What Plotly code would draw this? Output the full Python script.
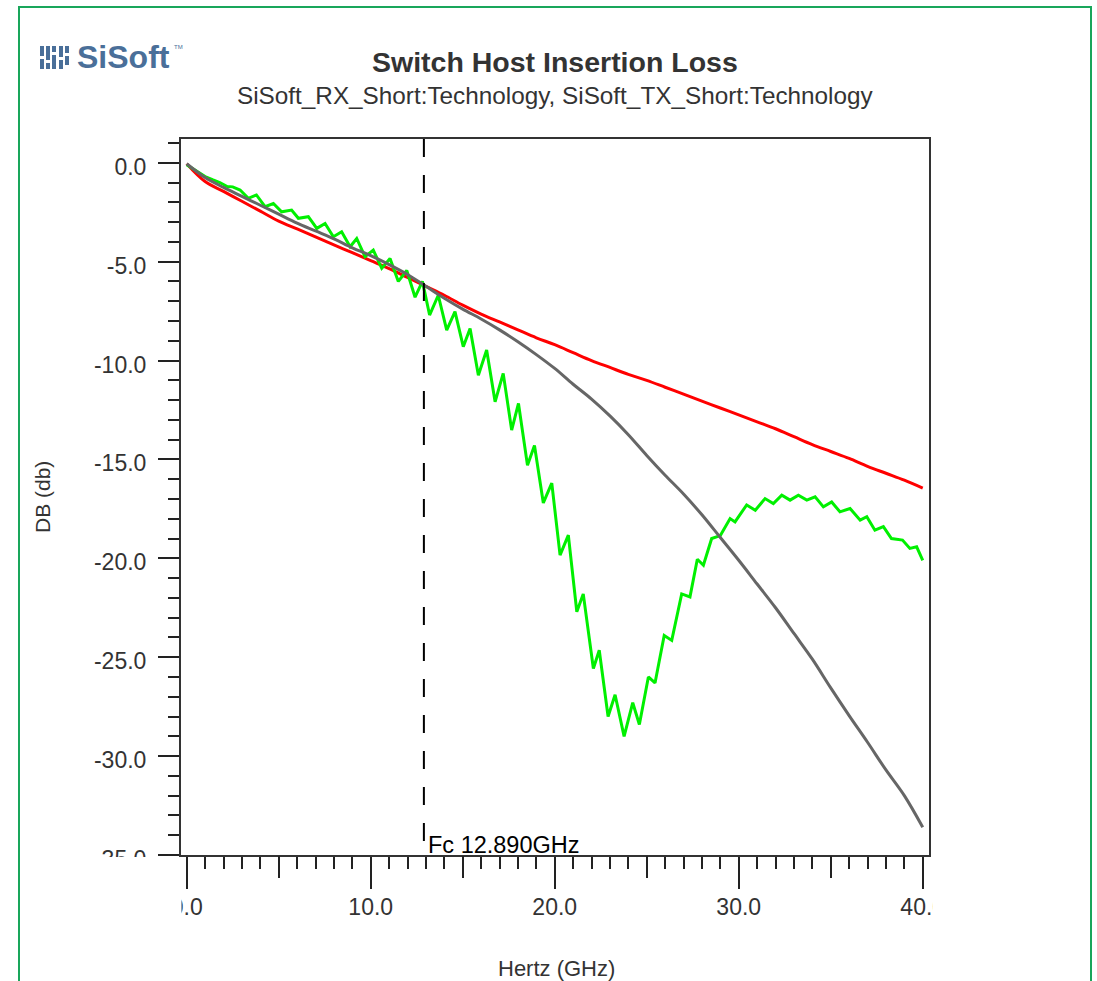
import plotly.graph_objects as go

# ---------------------------------------------------------------- data ----
# Frequency grid (GHz) for the two smooth traces
freq_ghz = [0, 1, 2, 3, 4, 5, 6, 7, 8, 9, 10, 11, 12, 13, 14, 15, 16, 17, 18, 19, 20,
            21, 22, 23, 24, 25, 26, 27, 28, 29, 30, 31, 32, 33, 34, 35, 36, 37, 38, 39, 40]

# Red trace (dB)
red_db = [-0.05, -0.95, -1.45, -1.95, -2.45, -2.95, -3.35, -3.75, -4.15, -4.55, -4.95,
          -5.35, -5.80, -6.25, -6.70, -7.20, -7.65, -8.05, -8.45, -8.85, -9.20,
          -9.60, -10.00, -10.35, -10.70, -11.00, -11.35, -11.70, -12.05, -12.40, -12.75,
          -13.10, -13.45, -13.85, -14.25, -14.60, -14.95, -15.35, -15.70, -16.05, -16.45]

# Gray trace (dB)
gray_db = [-0.05, -0.75, -1.25, -1.70, -2.15, -2.60, -3.05, -3.45, -3.85, -4.30, -4.70,
           -5.15, -5.65, -6.25, -6.85, -7.40, -7.90, -8.45, -9.05, -9.70, -10.40,
           -11.20, -11.95, -12.80, -13.75, -14.80, -15.80, -16.75, -17.80, -18.95, -20.10,
           -21.30, -22.50, -23.80, -25.10, -26.55, -27.95, -29.30, -30.70, -32.00, -33.60]

# Green trace (rippled), frequency (GHz) and level (dB)
green_freq_ghz = [0.00, 0.50, 1.00, 1.40, 1.80, 2.20, 2.50, 2.90, 3.35, 3.79, 4.26, 4.71,
                  5.16, 5.70, 6.07, 6.61, 7.07, 7.52, 7.97, 8.42, 8.88, 9.24, 9.69, 10.14,
                  10.60, 11.05, 11.50, 11.96, 12.41, 12.81, 13.20, 13.67, 14.13, 14.58,
                  15.03, 15.40, 15.85, 16.30, 16.76, 17.20, 17.66, 18.03, 18.52, 18.90,
                  19.38, 19.84, 20.29, 20.74, 21.20, 21.55, 22.10, 22.42, 22.90, 23.28,
                  23.77, 24.24, 24.60, 25.09, 25.45, 25.95, 26.36, 26.90, 27.35, 27.75,
                  28.08, 28.53, 29.00, 29.53, 29.80, 30.43, 30.90, 31.43, 31.88, 32.34,
                  32.79, 33.24, 33.70, 34.15, 34.60, 35.05, 35.50, 36.05, 36.60, 36.96,
                  37.40, 37.86, 38.30, 38.90, 39.30, 39.67, 40.00]
green_db = [-0.10, -0.42, -0.70, -0.86, -1.00, -1.20, -1.22, -1.38, -1.80, -1.63, -2.22, -2.06,
            -2.48, -2.39, -2.81, -2.73, -3.32, -3.07, -3.74, -3.49, -4.25, -3.83, -4.75, -4.42,
            -5.34, -4.84, -6.00, -5.45, -6.80, -6.00, -7.70, -6.70, -8.46, -7.53,
            -9.30, -8.38, -10.74, -9.47, -12.09, -10.65, -13.52, -12.17, -15.30, -14.30,
            -17.20, -16.20, -19.84, -18.83, -22.70, -21.80, -25.57, -24.65, -28.00, -26.90,
            -29.00, -27.30, -28.40, -26.00, -26.30, -23.90, -24.15, -21.80, -21.95, -20.05,
            -20.35, -19.00, -18.85, -17.99, -18.16, -17.30, -17.57, -16.98, -17.23, -16.81,
            -17.06, -16.81, -17.06, -16.89, -17.40, -17.15, -17.65, -17.48, -18.07, -17.90,
            -18.58, -18.40, -19.00, -19.08, -19.50, -19.42, -20.10]

# Cut-off frequency marker (GHz)
fc_ghz = 12.89

# Axis ticks
y_tick_vals = [0, -5, -10, -15, -20, -25, -30, -35]
y_tick_text = ["0.0", "-5.0", "-10.0", "-15.0", "-20.0", "-25.0", "-30.0", "-35.0"]
x_tick_vals = [0, 10, 20, 30, 40]
x_tick_text = ["0.0", "10.0", "20.0", "30.0", "40.0"]
x_mid_tick_vals = [5, 15, 25, 35]

# -------------------------------------------------------------- layout ----
W, H = 1097, 981
PL, PR, PT, PB = 181, 929, 139, 855   # plot box edges in pixels


def px(xp):
    return (xp - PL) / (PR - PL)


def py(yp):
    return (PB - yp) / (PB - PT)


FONT = "Liberation Sans"
LOGO_BLUE = "#4a6f99"

fig = go.Figure()
fig.add_trace(go.Scatter(x=freq_ghz, y=red_db, mode="lines", line=dict(color="#ff0000", width=3, shape="spline"),
                         hoverinfo="skip"))
fig.add_trace(go.Scatter(x=green_freq_ghz, y=green_db, mode="lines", line=dict(color="#00f000", width=3),
                         hoverinfo="skip"))
fig.add_trace(go.Scatter(x=freq_ghz, y=gray_db, mode="lines", line=dict(color="#666666", width=3, shape="spline"),
                         hoverinfo="skip"))
# carrier for the secondary (5 GHz) tick axis
fig.add_trace(go.Scatter(x=[], y=[], xaxis="x2", yaxis="y", hoverinfo="skip"))

x_range = [-0.31, 40.34]
tick_font = dict(family=FONT, size=23, color="#333333")

shapes = [
    # outer frame
    dict(type="rect", xref="paper", yref="paper", x0=px(19), x1=px(1091), y0=py(7), y1=py(1000),
         line=dict(color="#19a65b", width=2), layer="above"),
    # clipping of tick labels at the edge of the axis area
    dict(type="rect", xref="paper", yref="paper", x0=px(60), x1=px(179), y0=py(857), y1=py(930),
         fillcolor="white", line=dict(width=0), layer="above"),
    dict(type="rect", xref="paper", yref="paper", x0=px(120), x1=px(181.5), y0=py(888), y1=py(930),
         fillcolor="white", line=dict(width=0), layer="above"),
    dict(type="rect", xref="paper", yref="paper", x0=px(933), x1=px(1000), y0=py(888), y1=py(930),
         fillcolor="white", line=dict(width=0), layer="above"),
    # Fc marker
    dict(type="line", xref="x", yref="paper", x0=fc_ghz, x1=fc_ghz, y0=1, y1=0,
         line=dict(color="black", width=2, dash="18px,18px"), layer="above"),
]

# logo glyph: staggered vertical bars
bars = [(42, 46, 56), (42, 59, 69), (48, 46, 60), (48, 63, 69), (54, 46, 52), (54, 55, 69),
        (61, 46, 57), (61, 60, 69), (67, 46, 53), (67, 56, 65)]
for bx, y0, y1 in bars:
    shapes.append(dict(type="line", xref="paper", yref="paper", x0=px(bx), x1=px(bx), y0=py(y0), y1=py(y1),
                       line=dict(color=LOGO_BLUE, width=4), layer="above"))

annotations = [
    dict(text="<b>Switch Host Insertion Loss</b>", x=px(555), y=py(62), xref="paper", yref="paper",
         showarrow=False, font=dict(family=FONT, size=28.5, color="#333333"), xanchor="center", yanchor="middle"),
    dict(text="SiSoft_RX_Short:Technology, SiSoft_TX_Short:Technology", x=px(555), y=py(96),
         xref="paper", yref="paper", showarrow=False, font=dict(family=FONT, size=24.3, color="#333333"),
         xanchor="center", yanchor="middle"),
    dict(text="<b>SiSoft</b>", x=px(75), y=py(57), xref="paper", yref="paper", showarrow=False,
         font=dict(family=FONT, size=32, color=LOGO_BLUE), xanchor="left", yanchor="middle"),
    dict(text="TM", x=px(172), y=py(47), xref="paper", yref="paper", showarrow=False,
         font=dict(family=FONT, size=6, color=LOGO_BLUE), xanchor="left", yanchor="middle"),
    dict(text="DB (db)", x=px(42), y=py(497), xref="paper", yref="paper", showarrow=False, textangle=-90,
         font=dict(family=FONT, size=21, color="#333333"), xanchor="center", yanchor="middle"),
    dict(text="Hertz (GHz)", x=px(556), y=py(968), xref="paper", yref="paper", showarrow=False,
         font=dict(family=FONT, size=22, color="#333333"), xanchor="center", yanchor="middle"),
    dict(text=f"Fc {fc_ghz:.3f}GHz", x=fc_ghz, y=0, xref="x", yref="paper", showarrow=False,
         font=dict(family=FONT, size=23.5, color="black"), xanchor="left", yanchor="bottom",
         xshift=2, yshift=-5),
]

fig.update_layout(
    width=W, height=H, autosize=False,
    margin=dict(l=PL, r=W - PR, t=PT, b=H - PB, pad=0),
    paper_bgcolor="white", plot_bgcolor="white",
    showlegend=False,
    xaxis=dict(range=x_range, tickmode="array", tickvals=x_tick_vals, ticktext=x_tick_text,
               ticks="outside", ticklen=32, tickwidth=2, tickcolor="#222222",
               showline=True, linecolor="#333333", linewidth=2, mirror=True,
               showgrid=False, zeroline=False, tickfont=tick_font, ticklabelstandoff=-2,
               minor=dict(tick0=0, dtick=1, ticks="outside", ticklen=12, tickwidth=2, tickcolor="#222222",
                          showgrid=False)),
    xaxis2=dict(range=x_range, overlaying="x", anchor="y", side="bottom", tickmode="array",
                tickvals=x_mid_tick_vals, showticklabels=False, ticks="outside", ticklen=22, tickwidth=2,
                tickcolor="#222222", showline=False, showgrid=False, zeroline=False),
    yaxis=dict(range=[-35, 1.2], tickmode="array", tickvals=y_tick_vals, ticktext=y_tick_text,
               ticks="outside", ticklen=21, tickwidth=2, tickcolor="#222222",
               showline=True, linecolor="#333333", linewidth=2, mirror=True,
               showgrid=False, zeroline=False, tickfont=tick_font, ticklabelstandoff=7, ticklabelshift=4,
               minor=dict(tick0=0, dtick=1, ticks="outside", ticklen=11, tickwidth=2, tickcolor="#222222",
                          showgrid=False)),
    shapes=shapes,
    annotations=annotations,
)

fig.write_html("out.html")
